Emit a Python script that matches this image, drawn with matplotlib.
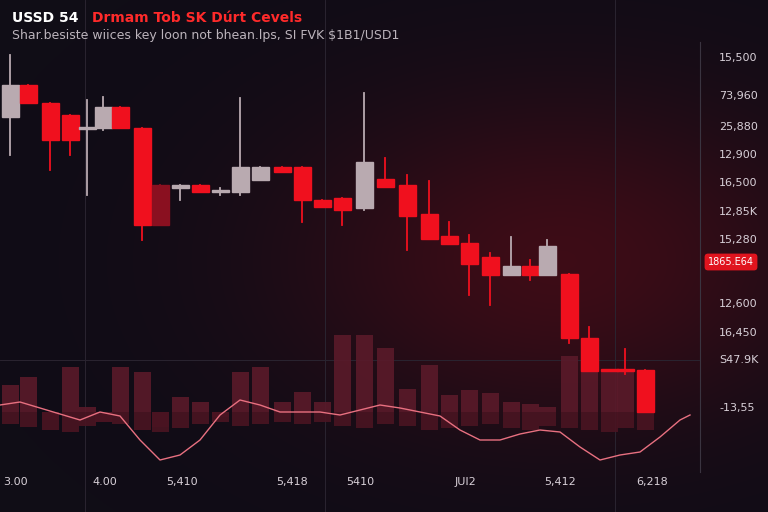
import numpy as np
import matplotlib.pyplot as plt
from matplotlib.colors import LinearSegmentedColormap

times  = [10,28,50,70,87,103,120,142,160,180,200,220,240,260,282,302,322,342,364,385,407,429,449,469,490,511,530,547,569,589,609,625,645]
opens  = [395,427,409,397,384,384,405,384,327,324,327,322,320,332,345,345,312,314,304,333,327,298,276,269,255,237,246,237,238,174,142,142,142]
closes = [427,409,372,372,383,405,384,287,287,327,320,320,345,345,340,312,305,302,350,325,296,273,268,248,237,246,237,266,174,141,141,141,100]
highs  = [457,427,409,397,412,415,405,384,327,327,327,324,414,345,345,345,312,314,419,354,337,331,290,277,259,275,252,272,238,185,142,163,142]
lows   = [357,409,342,357,317,382,384,272,287,312,320,317,317,332,340,290,305,287,302,325,262,273,268,217,207,237,232,237,169,141,141,138,100]
ups    = [1,0,0,0,1,1,0,0,0,1,0,1,1,1,0,0,0,0,1,0,0,0,0,0,0,1,0,1,0,0,0,0,0]
vol_up = [27,35,-8,45,5,-10,45,40,-15,15,10,-5,40,45,10,20,10,77,77,64,23,47,17,22,19,10,8,5,56,42,42,42,20]
vol_dn = [12,15,18,20,14,10,12,18,20,16,12,10,14,12,10,12,10,14,16,12,14,18,16,14,12,16,18,14,16,18,20,16,18]
osc_t  = [0,20,40,60,80,100,120,140,160,180,200,220,240,260,280,300,320,340,360,380,400,420,440,460,480,500,520,540,560,580,600,620,640,660,680,690]
osc_v  = [107,110,104,98,92,100,96,72,52,57,72,97,112,107,100,100,100,97,102,107,104,100,96,82,72,72,78,82,80,65,52,57,60,75,92,97]
xtick_pos = [15,105,182,292,360,465,560,652]
xtick_lab = ["3.00","4.00","5,410","5,418","5410","JUI2","5,412","6,218"]
ytick_val = [454,416,385,357,329,300,272,208,179,152,104]
ytick_lab = ["15,500","73,960","25,880","12,900","16,500","12,85K","15,280","12,600","16,450","S47.9K","-13,55"]
last_label = "1865.E64"
last_val = 250
base = 100

fig = plt.figure(figsize=(7.68,5.12), dpi=100)
fig.patch.set_facecolor('#120f18')
ax = fig.add_axes([0,0,1,1])
ax.set_xlim(0,768)
ax.set_ylim(0,512)
ax.axis('off')

yy, xx = np.mgrid[0:512, 0:768]
g = np.exp(-(((xx-560)/260.0)**2 + ((yy-260)/160.0)**2))
cmap = LinearSegmentedColormap.from_list('bg', ['#100d16', '#3d0c16'])
ax.imshow(g, extent=(0,768,0,512), origin='upper', cmap=cmap, aspect='auto', zorder=0)

for gx in [85,325,615]:
    ax.axvline(gx, color='#2a2430', lw=0.7, zorder=1)
ax.axhline(152, xmax=700/768, color='#2a2430', lw=0.7, zorder=1)
ax.plot([700,700],[40,470], color='#3a3440', lw=0.8, zorder=1)

vcol = ['#5a1a2a' if v>0 else '#4a1220' for v in vol_up]
ax.bar(times, vol_up, bottom=base, width=17, color=vcol, alpha=0.9, zorder=2)
ax.bar(times, [-v for v in vol_dn], bottom=base, width=17, color='#4a1422', alpha=0.9, zorder=2)
ax.plot(osc_t, osc_v, color='#e87080', lw=1.0, zorder=3)

for i,t in enumerate(times):
    c = '#b9aab0' if ups[i] else '#f0101e'
    if i == 8: c = '#8a1020'
    ax.plot([t,t],[lows[i],highs[i]], color=c, lw=1.3, zorder=4)
    lo, hi = min(opens[i],closes[i]), max(opens[i],closes[i])
    ax.bar(t, max(hi-lo,2), bottom=lo, width=17, color=c, edgecolor=c, zorder=5)

for v,l in zip(ytick_val, ytick_lab):
    ax.text(719, v, l, color='#d8d0d8', fontsize=8, va='center', ha='left', zorder=6)
ax.text(708, last_val, last_label, color='white', fontsize=7, va='center', ha='left', zorder=7,
        bbox=dict(boxstyle='round,pad=0.35', fc='#e0141e', ec='none'))
for p,l in zip(xtick_pos, xtick_lab):
    ax.text(p, 30, l, color='#d8d0d8', fontsize=8, ha='center', va='center', zorder=6)

fig.text(12/768, 1-18/512, "USSD 54", color='white', fontsize=10, fontweight='bold', va='center')
fig.text(92/768, 1-18/512, "Drmam Tob SK Dúrt Cevels", color='#ff2a2a', fontsize=10, fontweight='bold', va='center')
fig.text(12/768, 1-35/512, "Shar.besiste wiices key loon not bhean.lps, SI FVK $1B1/USD1", color='#bcb4bc', fontsize=9, va='center')

fig.savefig('out.png', dpi=100, facecolor=fig.get_facecolor())
